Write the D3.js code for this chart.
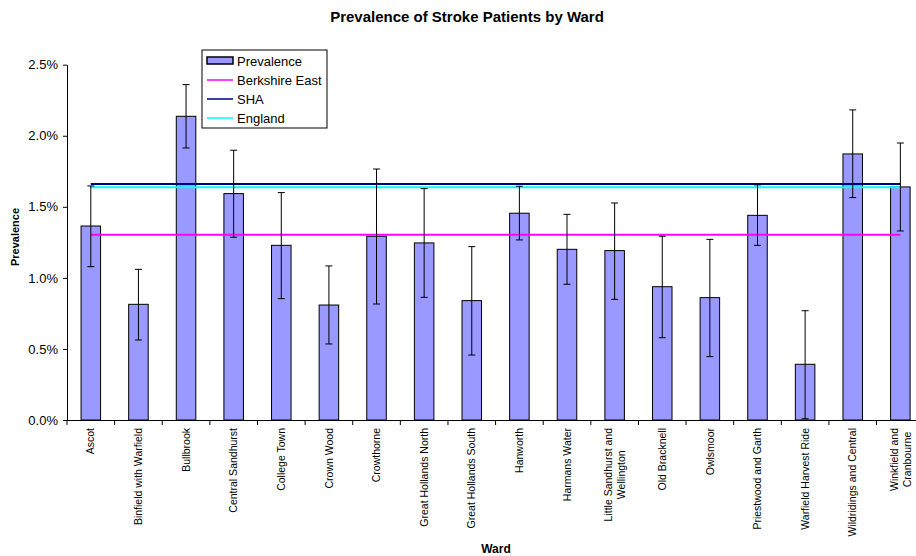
<!DOCTYPE html>
<html>
<head>
<meta charset="utf-8">
<script src="https://cdn.jsdelivr.net/npm/d3@7"></script>
<style>
  body { margin: 0; background: #fff; }
  svg { font-family: Arial, "Liberation Sans", sans-serif; }
</style>
</head>
<body>
<svg id="chart" width="916" height="556"></svg>
<script>
// wards along the x axis
var wards = [
  'Ascot', 'Binfield with Warfield', 'Bullbrook', 'Central Sandhurst',
  'College Town', 'Crown Wood', 'Crowthorne', 'Great Hollands North',
  'Great Hollands South', 'Hanworth', 'Harmans Water',
  'Little Sandhurst and|Wellington', 'Old Bracknell', 'Owlsmoor',
  'Priestwood and Garth', 'Warfield Harvest Ride', 'Wildridings and Central',
  'Winkfield and|Cranbourne'
];
// prevalence (%) per ward, and the confidence interval
var prevalence = [1.365, 0.814, 2.137, 1.593, 1.229, 0.809, 1.293, 1.246, 0.840,
  1.455, 1.201, 1.192, 0.938, 0.861, 1.440, 0.392, 1.872, 1.640];
var ciLow = [1.079, 0.563, 1.914, 1.286, 0.854, 0.535, 0.816, 0.863, 0.457,
  1.267, 0.955, 0.849, 0.579, 0.446, 1.229, 0.009, 1.565, 1.330];
var ciHigh = [1.647, 1.060, 2.360, 1.898, 1.600, 1.084, 1.766, 1.628, 1.220,
  1.645, 1.447, 1.527, 1.293, 1.271, 1.654, 0.769, 2.182, 1.949];
// comparison rates (%)
var refNames = ['Berkshire East', 'SHA', 'England'];
var refValues = [1.304, 1.661, 1.638];
var refColors = ['#ff00ff', '#000080', '#00ffff'];
var yTicks = [0, 0.5, 1.0, 1.5, 2.0, 2.5];

var svg = d3.select('#chart');

var plotLeft = 67, plotTop = 64.7, plotBottom = 420;
var step = 47.62;

var x = d3.scaleBand()
  .domain(wards)
  .range([plotLeft, plotLeft + step * wards.length])
  .paddingInner(0.59)
  .paddingOuter(0.295);

var y = d3.scaleLinear()
  .domain([0, 2.5])
  .range([plotBottom, plotTop]);

var cx = function(d) { return x(d) + x.bandwidth() / 2; };

// title
svg.append('text')
  .attr('x', 467).attr('y', 22)
  .attr('text-anchor', 'middle')
  .style('font-size', '15px').style('font-weight', 'bold')
  .text('Prevalence of Stroke Patients by Ward');

// bars
svg.append('g').selectAll('rect')
  .data(wards)
  .enter().append('rect')
  .attr('x', function(d) { return x(d); })
  .attr('y', function(d, i) { return y(prevalence[i]); })
  .attr('width', x.bandwidth())
  .attr('height', function(d, i) { return y(0) - y(prevalence[i]); })
  .attr('fill', '#9999ff')
  .attr('stroke', '#000')
  .attr('stroke-width', 1);

// reference lines, from first to last ward centre
svg.append('g').selectAll('line')
  .data(refValues)
  .enter().append('line')
  .attr('x1', cx(wards[0]))
  .attr('x2', cx(wards[wards.length - 1]))
  .attr('y1', function(d) { return y(d); })
  .attr('y2', function(d) { return y(d); })
  .attr('stroke', function(d, i) { return refColors[i]; })
  .attr('stroke-width', 2);

// error bars
var eb = svg.append('g').attr('stroke', '#000').attr('stroke-width', 1);
wards.forEach(function(w, i) {
  var c = cx(w);
  eb.append('line').attr('x1', c).attr('x2', c)
    .attr('y1', y(ciLow[i])).attr('y2', y(ciHigh[i]));
  [ciLow[i], ciHigh[i]].forEach(function(v) {
    eb.append('line').attr('x1', c - 3.5).attr('x2', c + 3.5)
      .attr('y1', y(v)).attr('y2', y(v));
  });
});

// y axis
var yAxis = svg.append('g')
  .attr('transform', 'translate(' + plotLeft + ',0)')
  .call(d3.axisLeft(y).tickValues(yTicks).tickSize(4).tickSizeOuter(0)
    .tickFormat(function(d) { return d.toFixed(1) + '%'; }));
yAxis.selectAll('text').style('font-size', '13px').attr('fill', '#000').attr('x', -9);
yAxis.select('.domain').attr('stroke', '#000');
yAxis.selectAll('.tick line').attr('stroke', '#000');

// x axis: ticks between categories
var xg = svg.append('g');
xg.append('line')
  .attr('x1', plotLeft).attr('x2', x.range()[1])
  .attr('y1', plotBottom + 0.5).attr('y2', plotBottom + 0.5)
  .attr('stroke', '#000');
xg.selectAll('line.tk')
  .data(d3.range(wards.length + 1))
  .enter().append('line').attr('class', 'tk')
  .attr('x1', function(i) { return plotLeft + i * step; })
  .attr('x2', function(i) { return plotLeft + i * step; })
  .attr('y1', plotBottom).attr('y2', plotBottom + 5)
  .attr('stroke', '#000');

// x labels, rotated
wards.forEach(function(w) {
  var lines = w.split('|');
  var c = cx(w);
  var g = svg.append('g');
  var ts = lines.map(function(s, k) {
    return g.append('text')
      .attr('transform', 'rotate(-90)')
      .attr('y', c + (k - (lines.length - 1) / 2) * 13)
      .attr('dy', '0.35em')
      .style('font-size', '10.5px')
      .text(s);
  });
  var maxW = d3.max(ts, function(t) { return t.node().getComputedTextLength(); });
  ts.forEach(function(t) {
    if (lines.length === 1) {
      t.attr('x', -428).attr('text-anchor', 'end');
    } else {
      t.attr('x', -(428 + maxW / 2)).attr('text-anchor', 'middle');
    }
  });
});

// axis titles
svg.append('text')
  .attr('transform', 'translate(15,237) rotate(-90)')
  .attr('text-anchor', 'middle')
  .attr('dy', '0.35em')
  .style('font-size', '11px').style('font-weight', 'bold')
  .text('Prevalence');
svg.append('text')
  .attr('x', 496).attr('y', 553)
  .attr('text-anchor', 'middle')
  .style('font-size', '12px').style('font-weight', 'bold')
  .text('Ward');

// legend
var lg = svg.append('g').attr('transform', 'translate(202,50)');
lg.append('rect').attr('width', 125).attr('height', 78)
  .attr('fill', '#fff').attr('stroke', '#000');
var legNames = ['Prevalence'].concat(refNames);
legNames.forEach(function(n, i) {
  var ly = 11 + i * 19;
  if (i === 0) {
    lg.append('rect').attr('x', 5).attr('y', ly - 4).attr('width', 26).attr('height', 7)
      .attr('fill', '#9999ff').attr('stroke', '#000').attr('stroke-width', 1.5);
  } else {
    lg.append('line').attr('x1', 5).attr('x2', 31).attr('y1', ly).attr('y2', ly)
      .attr('stroke', refColors[i - 1]).attr('stroke-width', 1.5);
  }
  lg.append('text').attr('x', 35).attr('y', ly).attr('dy', '0.36em')
    .style('font-size', '13px').text(n);
});
</script>
</body>
</html>
